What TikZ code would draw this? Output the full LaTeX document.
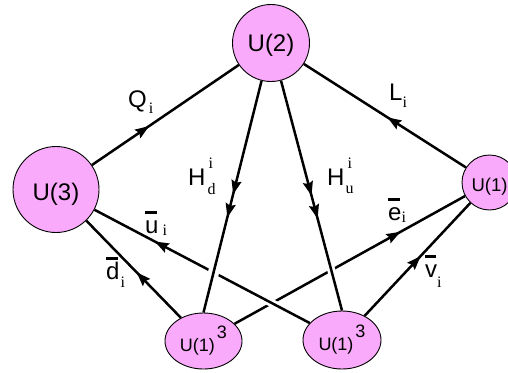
\documentclass[tikz,border=0pt]{standalone}
\usepackage{fontspec}
\setmainfont{Liberation Sans}
\newfontfamily\sr{Liberation Serif}
\usetikzlibrary{arrows.meta,decorations.markings,backgrounds,shapes.geometric}
\definecolor{pk}{RGB}{250,170,250}
\newsavebox\obbox
\newcommand\ob[1]{\sbox\obbox{#1}\rlap{\rule[0.78em]{0.92\wd\obbox}{0.12em}}\usebox\obbox}
\newcommand\lo[2]{\raisebox{#1}{\fontsize{16}{16}\sr #2}}
\begin{document}
\begin{tikzpicture}[x=1pt,y=-1pt,
  nd/.style={draw=black,line width=0.9pt,fill=pk,inner sep=0pt},
  cir/.style={nd,circle,minimum size=#1},
  ell/.style={nd,ellipse,minimum width=77pt,minimum height=56pt},
  ln/.style={line width=2.5pt},
  arw/.style={postaction={decorate,decoration={markings,
     mark=at position #1 with {\arrow{Stealth[length=14pt,width=10pt,inset=2pt]}}}}},
  arwtwo/.style 2 args={postaction={decorate,decoration={markings,
     mark=at position #1 with {\arrow{Stealth[length=14pt,width=10pt,inset=2pt]}},
     mark=at position #2 with {\arrow{Stealth[length=14pt,width=10pt,inset=2pt]}}}}},
  knock/.style={preaction={draw,white,line width=#1}},
  lab/.style={anchor=base west,inner sep=0pt,font=\fontsize{24}{28}\selectfont},
  txt/.style={inner sep=0pt,font=\fontsize{24}{28}\selectfont},
  stxt/.style={inner sep=0pt,font=\fontsize{18}{22}\selectfont}
]
\useasboundingbox (0,0) rectangle (508,372);
% nodes
\node[cir=77pt] (U2) at (271,43) {};
\node[cir=86pt] (U3) at (56,189.5) {};
\node[cir=55pt] (R1) at (489.5,182.5) {};
\node[ell] (E1) at (203.5,341) {};
\node[ell,minimum width=78pt,minimum height=58pt] (E2) at (342,340) {};
\node[txt] (U2t) at ([yshift=-2pt]U2.center) {U(2)};
\node[txt] (U3t) at ([yshift=-5pt]U3.center) {U(3)};
\node[stxt,font=\fontsize{18.5}{22}\selectfont] (R1t) at ([yshift=-4pt]R1.center) {U(1)};
\node[stxt] (E1t) at (E1.center) {U(1)\kern2pt\raisebox{13pt}{3}};
\node[stxt] (E2t) at (E2.center) {U(1)\kern2pt\raisebox{13pt}{3}};
% connectors
\begin{scope}[on background layer]
\draw[ln,arw=0.39] (U3) -- (U2);
\draw[ln,arw=0.485] (R1) -- (U2);
\draw[ln,arw=0.47] (E1) -- (U3);
\draw[ln,arw=0.53] (E2) -- (R1);
\draw[ln,arw=0.72] (E1) -- (R1);
\draw[ln,knock=8pt,arw=0.72] (E2) -- (U3);
\draw[ln,knock=8pt,arwtwo={0.5}{0.6}] (U2) -- (E2.north);
\draw[ln,knock=11pt,arwtwo={0.49}{0.59}] (U2) -- (E1.north);
\end{scope}
% labels
\node[lab] (lQ) at (128,107) {Q\kern2pt\lo{-6pt}{i}};
\node[lab] (lL) at (389,100) {L\lo{-7pt}{i}};
\node[lab] (lHd) at (188,185) {H\kern2pt\rlap{\kern1pt\lo{17pt}{i}}\lo{-9pt}{d}};
\node[lab] (lHu) at (327,185) {H\kern1pt\rlap{\kern2pt\lo{17pt}{i}}\lo{-8pt}{u}};
\node[lab] (lu) at (145,233) {\ob{u}\kern4pt\lo{-2pt}{i}};
\node[lab] (ld) at (106,279) {\ob{d}\kern1pt\lo{-8pt}{i}};
\node[lab] (le) at (388,220) {\ob{e}\lo{-2pt}{i}};
\node[lab] (lv) at (425,277) {\ob{v}\lo{-10pt}{i}};
\end{tikzpicture}
\end{document}
